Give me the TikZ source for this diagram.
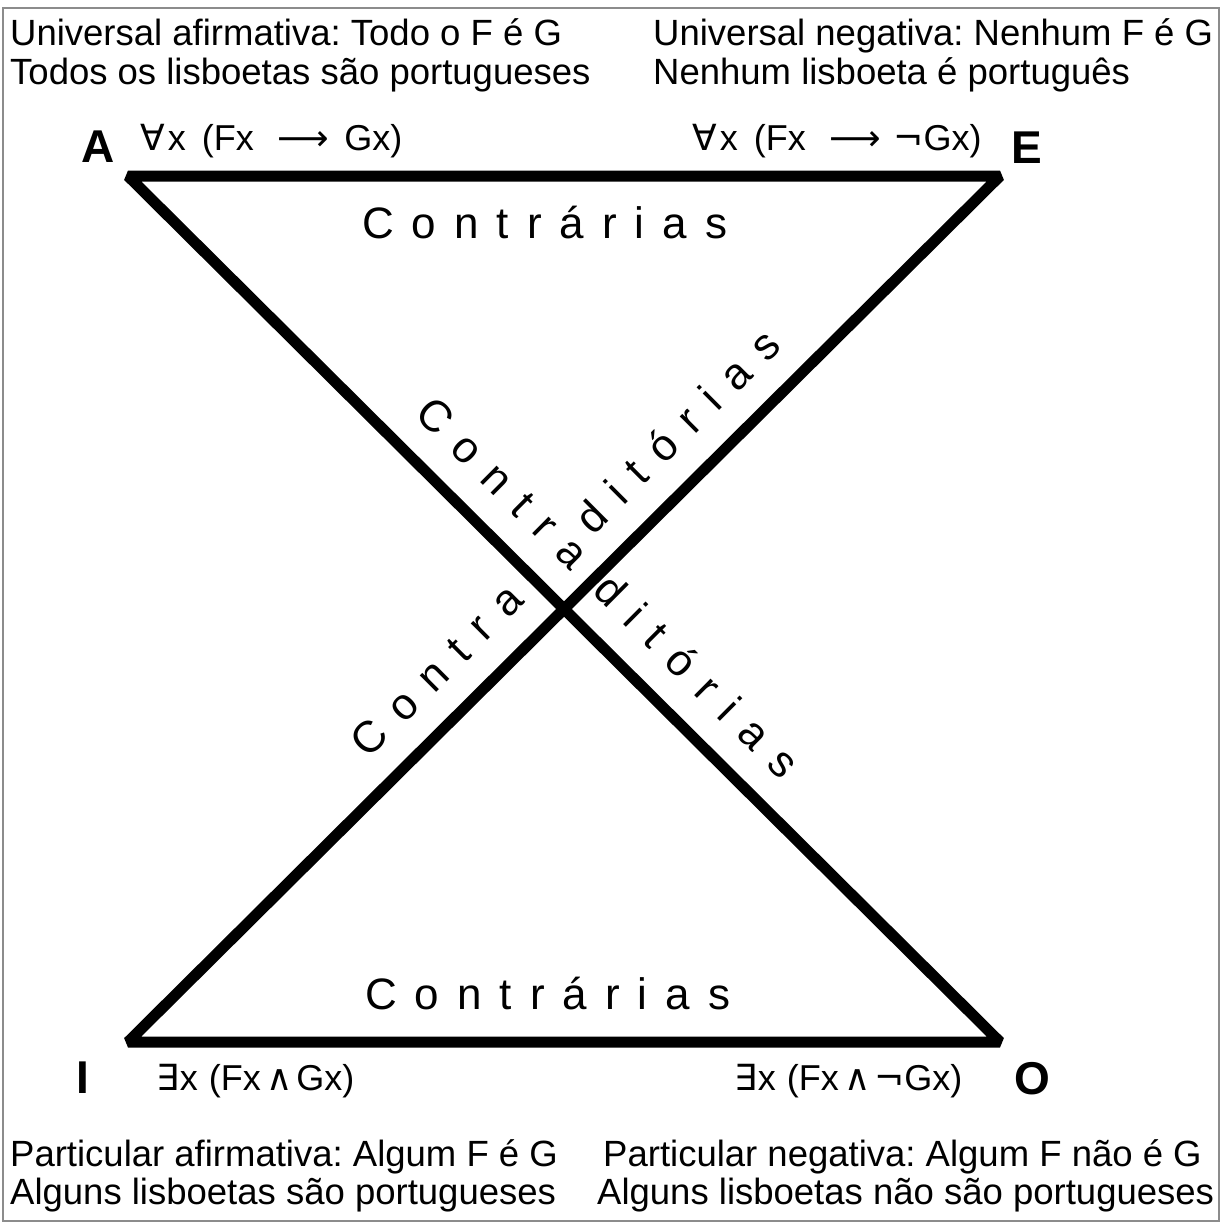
\documentclass[tikz,border=0pt]{standalone}
\usepackage{fontspec}
\setmainfont{Liberation Sans}
\newfontfamily\symf{DejaVu Sans}
\usetikzlibrary{calc}
\newcommand\hs{\hspace{18pt}}
\frenchspacing
\begin{document}
\begin{tikzpicture}[x=1pt,y=-1pt,
  txt/.style={inner sep=0pt, anchor=base west, font=\fontsize{36.5}{38}\selectfont},
  corner/.style={inner sep=0pt, anchor=base, font=\fontsize{46}{48}\selectfont\bfseries},
  fml/.style={inner sep=0pt, anchor=base west, font=\fontsize{36}{38}\selectfont},
  rel/.style={inner sep=0pt, anchor=base west, font=\fontsize{44}{46}\selectfont},
  bar/.style={line width=11pt, line join=bevel}]
\useasboundingbox (0,0) rectangle (1225,1223);
\draw[black!45, line width=2pt] (3,8) rectangle (1219,1221);
% corners
\coordinate (cA) at (128,176);
\coordinate (cE) at (1000,176);
\coordinate (cI) at (128,1042);
\coordinate (cO) at (1000,1042);
\draw[bar] (cA) -- (cE) -- (cI) -- (cO) -- cycle;
% descriptions
\node[txt] (t1) at (10,46) {Universal afirmativa: Todo o F é G};
\node[txt] (t2) at (10,84) {Todos os lisboetas são portugueses};
\node[txt] (t3) at (653,46) {Universal negativa: Nenhum F é G};
\node[txt] (t4) at (653,84) {Nenhum lisboeta é português};
\node[txt] (b1) at (10,1166) {Particular afirmativa: Algum F é G};
\node[txt] (b2) at (10,1204) {Alguns lisboetas são portugueses};
\node[txt] (b3) at (603,1166) {Particular negativa: Algum F não é G};
\node[txt] (b4) at (597,1204) {Alguns lisboetas não são portugueses};
% corner letters
\node[corner] (lA) at (98,162) {A};
\node[corner] (lE) at (1027,163) {E};
\node[corner] (lI) at (83,1093) {I};
\node[corner] (lO) at (1032,1094) {O};
% formulas
\node[fml] (fA) at (140,150) {{\symf ∀}\hspace{3pt}x\hspace{16pt}(Fx\hspace{24pt}{\symf ⟶}\hspace{15pt}Gx)};
\node[fml] (fE) at (692,150) {{\symf ∀}\hspace{3pt}x\hspace{16pt}(Fx\hspace{24pt}{\symf ⟶}\hspace{12pt}{\symf ¬}Gx)};
\node[fml] (fI) at (156,1090) {{\symf ∃}\hspace{1pt}x\hspace{11pt}(Fx\hspace{6pt}{\symf ∧}\hspace{3pt}Gx)};
\node[fml] (fO) at (734,1090) {{\symf ∃}\hspace{1pt}x\hspace{11pt}(Fx\hspace{6pt}{\symf ∧}\hspace{3pt}{\symf ¬}Gx)};
% relations
\node[rel] (ct) at (362,238) {C\hs o\hs n\hs t\hs r\hs á\hs r\hs i\hs a\hs s};
\node[rel] (cb) at (365,1009) {C\hs o\hs n\hs t\hs r\hs á\hs r\hs i\hs a\hs s};
\node[rel, rotate=44.86] (d1) at ($(cI)!370pt!(cE)!31pt!90:(cE)$) {C\hs o\hs n\hs t\hs r\hs a};
\node[rel, rotate=-44.86] (d2) at ($(cA)!371pt!(cO)!31pt!90:(cO)$) {C\hs o\hs n\hs t\hs r\hs a};
\node[rel, rotate=-44.86] (d3) at ($(cA)!622pt!(cO)!31pt!90:(cO)$) {d\hs i\hs t\hs ó\hs r\hs i\hs a\hs s};
\node[rel, rotate=44.86] (d4) at ($(cI)!686pt!(cE)!31pt!90:(cE)$) {d\hs i\hs t\hs ó\hs r\hs i\hs a\hs s};
\end{tikzpicture}
\end{document}
